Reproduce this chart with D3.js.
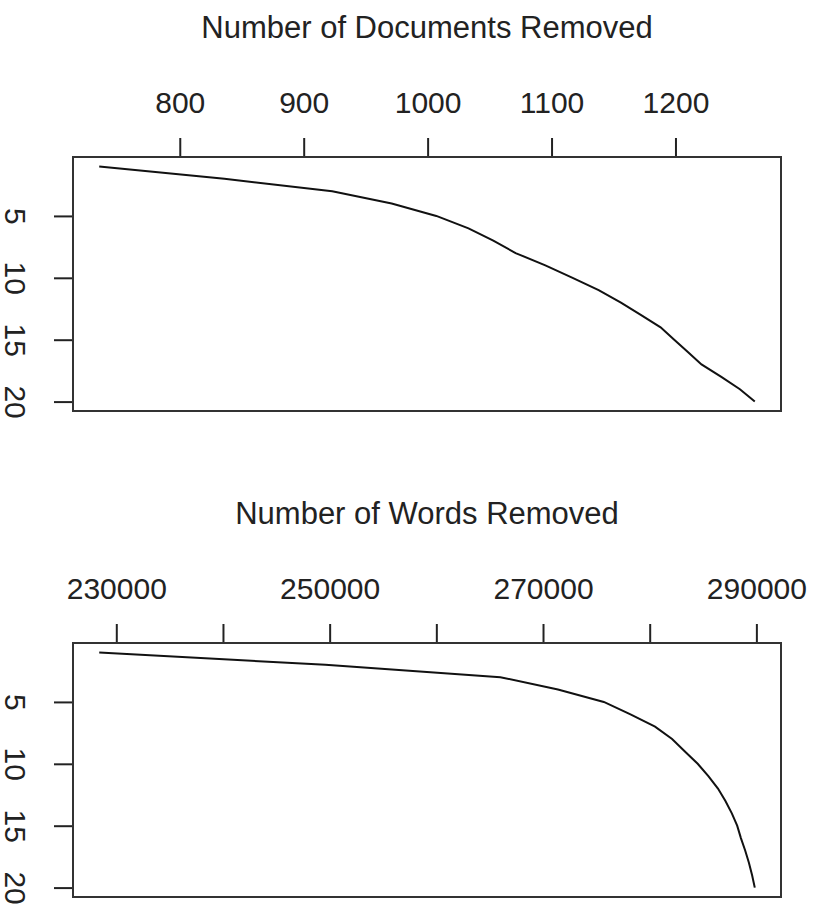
<!DOCTYPE html>
<html><head>
<meta charset="UTF-8">
<title>Documents and Words Removed</title>
<script src="https://d3js.org/d3.v7.min.js"></script>
<style>
  body { margin: 0; background: white; }
  .frame { fill: none; stroke: #333; stroke-width: 2px; }
  .line { fill: none; stroke: #111; stroke-width: 2px; }
  .axis text { font-family: "Liberation Sans", Arial, sans-serif; font-size: 30px; fill: #222; }
  .axis line { stroke: #222; stroke-width: 2px; }
  .title { font-family: "Liberation Sans", Arial, sans-serif; font-size: 31px; fill: #222; text-anchor: middle; }
</style>
</head>
<body>
<script type="text/javascript">

// threshold values on the vertical axis
var threshold = [1, 2, 3, 4, 5, 6, 7, 8, 9, 10, 11, 12, 13, 14, 15, 16, 17, 18, 19, 20];

// number of documents removed for each threshold
var docsRemoved = [735, 836, 923, 971, 1007, 1033, 1053, 1071, 1095, 1117,
                   1138, 1156, 1172, 1188, 1199, 1210, 1221, 1237, 1252, 1264];

// number of words removed for each threshold
var wordsRemoved = [228400, 249600, 266000, 271400, 275700, 278200, 280500, 282100, 283300, 284500,
                    285500, 286400, 287100, 287700, 288200, 288550, 288950, 289300, 289600, 289850];

// ticks
var docTicks = [800, 900, 1000, 1100, 1200];
var wordTicks = [230000, 240000, 250000, 260000, 270000, 280000, 290000];
var wordLabels = [230000, 250000, 270000, 290000];
var yTicks = [5, 10, 15, 20];

var titles = ["Number of Documents Removed", "Number of Words Removed"];

var width = 816, height = 905;

var svg = d3.select("body").append("svg")
    .attr("width", width)
    .attr("height", height)
    .style("background", "white");

// R style range padding (4% each side)
function padded(values) {
  var ext = d3.extent(values);
  var pad = (ext[1] - ext[0]) * 0.04;
  return [ext[0] - pad, ext[1] + pad];
}

function drawPanel(top, xValues, ticks, labels, title) {
  var left = 73, right = 781, bottom = top + 254;

  var xScale = d3.scaleLinear().domain(padded(xValues)).range([left, right]);
  var yScale = d3.scaleLinear().domain(padded(threshold)).range([top, bottom]);

  // title
  svg.append("text")
      .attr("class", "title")
      .attr("x", (left + right) / 2)
      .attr("y", top - 119)
      .text(title);

  // top axis
  var xAxis = d3.axisTop(xScale)
      .tickValues(ticks)
      .tickSize(19)
      .tickPadding(25)
      .tickFormat(function(d) { return labels.indexOf(d) >= 0 ? d : ""; });

  var gx = svg.append("g")
      .attr("class", "axis")
      .attr("transform", "translate(0," + top + ")")
      .call(xAxis);
  gx.select(".domain").remove();

  // left axis, labels turned
  var yAxis = d3.axisLeft(yScale)
      .tickValues(yTicks)
      .tickSize(19);

  var gy = svg.append("g")
      .attr("class", "axis")
      .attr("transform", "translate(" + left + ",0)")
      .call(yAxis);
  gy.select(".domain").remove();
  gy.selectAll("text")
      .attr("x", 0)
      .attr("dy", 0)
      .attr("text-anchor", "middle")
      .attr("transform", "translate(-68,0) rotate(90)");

  // line
  var valueline = d3.line()
      .x(function(d, i) { return xScale(xValues[i]); })
      .y(function(d) { return yScale(d); });

  svg.append("path")
      .datum(threshold)
      .attr("class", "line")
      .attr("d", valueline);

  // box
  svg.append("rect")
      .attr("class", "frame")
      .attr("x", left)
      .attr("y", top)
      .attr("width", right - left)
      .attr("height", bottom - top);
}

drawPanel(157, docsRemoved, docTicks, docTicks, titles[0]);
drawPanel(643, wordsRemoved, wordTicks, wordLabels, titles[1]);

</script>
</body>
</html>
